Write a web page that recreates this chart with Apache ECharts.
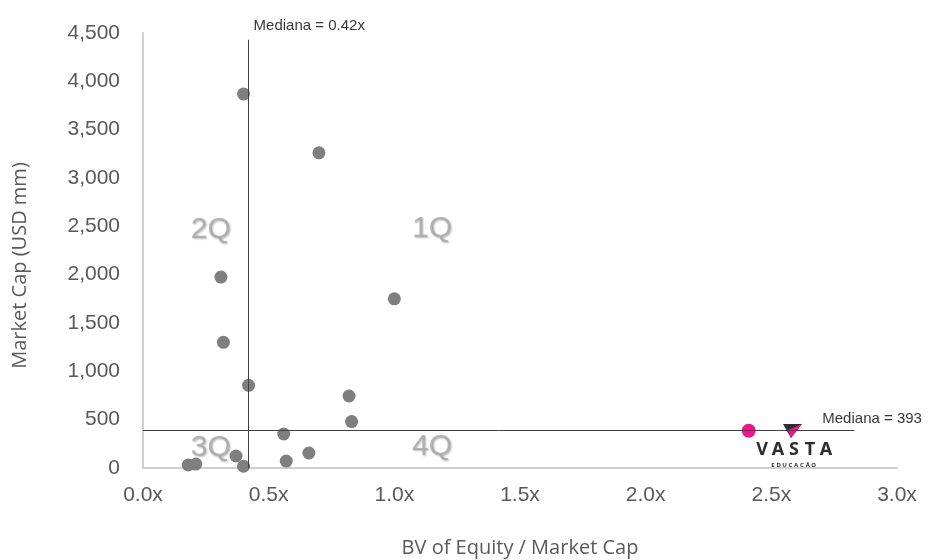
<!DOCTYPE html>
<html>
<head>
<meta charset="utf-8">
<script src="https://cdn.jsdelivr.net/npm/echarts@6/dist/echarts.min.js"></script>
<style>
  html, body { margin: 0; padding: 0; background: #ffffff; }
  #chart { width: 930px; height: 560px; }
</style>
</head>
<body>
<div id="chart"></div>
<script>
// Peer companies: book value of equity / market cap vs. market cap (USD mm)
const bvToMarketCap = [0.40, 0.70, 0.31, 1.00, 0.32, 0.42, 0.82, 0.83, 0.56, 0.66, 0.57, 0.37, 0.40, 0.18, 0.21];
const marketCapUsdMm = [3870, 3260, 1975, 1750, 1300, 855, 745, 480, 352, 155, 72, 124, 18, 31, 41];

// Vasta Educação
const vastaBv = [2.41];
const vastaCap = [386];

// Medians of the peer group
const medianBv = 0.42;
const medianCap = 393;

// Quadrant tags
const quadrantNames = ['2Q', '1Q', '3Q', '4Q'];
const quadrantBv = [0.27, 1.15, 0.27, 1.15];
const quadrantCap = [2460, 2480, 210, 215];

// Axis ticks
const xTicks = [0, 0.5, 1.0, 1.5, 2.0, 2.5, 3.0];
const yTicks = [0, 500, 1000, 1500, 2000, 2500, 3000, 3500, 4000, 4500];

const peers = bvToMarketCap.map((v, i) => [v, marketCapUsdMm[i]]);
const vasta = vastaBv.map((v, i) => [v, vastaCap[i]]);
const quadrants = quadrantNames.map((n, i) => [quadrantBv[i], quadrantCap[i], n]);

const tickFont = 'Liberation Sans, Arial, sans-serif';
const titleFont = 'Open Sans, sans-serif';

const chart = echarts.init(document.getElementById('chart'), null, { renderer: 'canvas' });

const medianLineTop = 4430;
const medianLineEnd = 2.83;

chart.setOption({
  animation: false,
  backgroundColor: '#ffffff',
  grid: { left: 143, right: 33, top: 33, bottom: 92, containLabel: false, outerBoundsMode: 'none' },
  xAxis: {
    type: 'value',
    min: xTicks[0],
    max: xTicks[xTicks.length - 1],
    interval: xTicks[1] - xTicks[0],
    name: 'BV of Equity / Market Cap',
    nameLocation: 'middle',
    nameGap: 70,
    nameTextStyle: { fontFamily: titleFont, fontSize: 20, color: '#595959' },
    axisLine: { show: true, lineStyle: { color: '#d0d0d0', width: 2 } },
    axisTick: { show: false },
    splitLine: { show: false },
    axisLabel: {
      margin: 17,
      fontFamily: tickFont,
      fontSize: 21,
      color: '#595959',
      formatter: v => v.toFixed(1) + 'x'
    }
  },
  yAxis: {
    type: 'value',
    min: yTicks[0],
    max: yTicks[yTicks.length - 1],
    interval: yTicks[1] - yTicks[0],
    name: 'Market Cap (USD mm)',
    nameLocation: 'middle',
    nameGap: 113,
    nameTextStyle: { fontFamily: titleFont, fontSize: 20, color: '#595959', padding: [0, 30, 0, 0] },
    axisLine: { show: true, lineStyle: { color: '#d0d0d0', width: 2 } },
    axisTick: { show: false },
    splitLine: { show: false },
    axisLabel: {
      margin: 23,
      fontFamily: tickFont,
      fontSize: 21,
      color: '#595959',
      formatter: v => v.toLocaleString('en-US')
    }
  },
  series: [
    {
      name: 'Peers',
      type: 'scatter',
      data: peers,
      symbol: 'circle',
      symbolSize: 13,
      itemStyle: { color: '#7f7f7f', opacity: 1 },
      z: 3,
      markLine: {
        silent: true,
        symbol: 'none',
        label: { show: false },
        lineStyle: { color: '#404040', width: 1, type: 'solid' },
        data: [
          [{ coord: [medianBv, 0] }, { coord: [medianBv, medianLineTop] }],
          [{ coord: [0, medianCap] }, { coord: [medianLineEnd, medianCap] }]
        ]
      }
    },
    {
      name: 'Vasta',
      type: 'scatter',
      data: vasta,
      symbol: 'circle',
      symbolSize: 14,
      itemStyle: { color: '#ee168c', opacity: 1 },
      z: 4
    },
    {
      name: 'Quadrants',
      type: 'scatter',
      data: quadrants,
      symbolSize: 0,
      silent: true,
      z: 2,
      label: {
        show: true,
        position: 'inside',
        formatter: p => p.data[2],
        fontFamily: tickFont,
        fontSize: 30,
        color: '#a6a6a6',
        textShadowColor: 'rgba(0,0,0,0.35)',
        textShadowBlur: 2,
        textShadowOffsetX: 1,
        textShadowOffsetY: 1
      }
    },
    {
      name: 'MedianBvNote',
      type: 'scatter',
      data: [[medianBv, medianLineTop]],
      symbolSize: 0,
      silent: true,
      label: {
        show: true,
        position: [5, -14],
        align: 'left',
        verticalAlign: 'middle',
        formatter: () => 'Mediana = ' + medianBv.toFixed(2) + 'x',
        fontFamily: tickFont,
        fontSize: 15,
        color: '#000000'
      }
    },
    {
      name: 'MedianCapNote',
      type: 'scatter',
      data: [[medianLineEnd, medianCap]],
      symbolSize: 0,
      silent: true,
      label: {
        show: true,
        position: [-32, -11],
        align: 'left',
        verticalAlign: 'middle',
        formatter: () => 'Mediana = ' + medianCap,
        fontFamily: tickFont,
        fontSize: 15,
        color: '#000000'
      }
    }
  ]
});

// Vasta Educação logo, below the company's position
(function drawLogo() {
  const letters = 'VASTA'.split('');
  const small = 'EDUCAÇÃO'.split('');
  const ox = 793, oy = 424;
  const children = [
    { type: 'polygon', shape: { points: [[ox - 10, oy], [ox + 9, oy], [ox - 2, oy + 14]] }, style: { fill: '#2b2d33' } },
    { type: 'polygon', shape: { points: [[ox + 9, oy], [ox - 2, oy + 14], [ox - 5, oy + 6]] }, style: { fill: '#ee168c' } }
  ];
  letters.forEach((ch, i) => {
    children.push({
      type: 'text',
      style: {
        text: ch, x: ox - 31 + i * 16, y: oy + 26,
        align: 'center', verticalAlign: 'middle',
        font: 'bold 18px "Noto Sans", sans-serif', fill: '#2b2d33'
      }
    });
  });
  small.forEach((ch, i) => {
    children.push({
      type: 'text',
      style: {
        text: ch, x: ox - 20 + i * 5.8, y: oy + 41,
        align: 'center', verticalAlign: 'middle',
        font: 'bold 6px "Noto Sans", sans-serif', fill: '#2b2d33'
      }
    });
  });
  chart.setOption({ graphic: [{ type: 'group', silent: true, children: children }] });
})();
</script>
</body>
</html>
